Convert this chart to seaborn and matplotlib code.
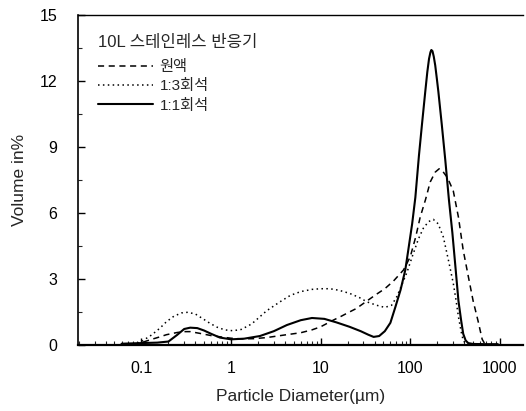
import matplotlib
matplotlib.use("Agg")
import matplotlib.pyplot as plt
import seaborn as sns
import pandas as pd
from matplotlib.ticker import FixedLocator, FixedFormatter, LogLocator, NullFormatter

# ---- data ----
raw_x = [0.08, 0.1, 0.13, 0.16, 0.19, 0.25, 0.3, 0.35, 0.45, 0.6, 0.8, 1.0, 1.3, 1.8, 2.5, 4, 6, 8, 10,
         13.8, 17, 20, 25, 33, 42, 52, 65, 84, 100, 115, 129, 148, 167, 190, 210, 229, 260, 302, 345,
         390, 445, 503, 570, 635, 690]
raw_y = [0.0, 0.1, 0.25, 0.36, 0.46, 0.56, 0.6, 0.6, 0.52, 0.42, 0.35, 0.3, 0.27, 0.28, 0.33, 0.45, 0.55,
         0.68, 0.82, 1.12, 1.3, 1.45, 1.65, 2.0, 2.3, 2.55, 2.9, 3.4, 4.0, 4.9, 5.8, 6.6, 7.4, 7.85, 8.0,
         7.9, 7.6, 7.0, 5.8, 4.3, 3.1, 2.0, 1.1, 0.25, 0.0]

d13_x = [0.08, 0.1, 0.13, 0.16, 0.19, 0.23, 0.28, 0.33, 0.4, 0.5, 0.58, 0.7, 0.85, 1.05, 1.3, 1.7, 2.5,
         3.5, 4.6, 6, 8, 10, 12.7, 16, 21, 27, 33, 42, 52, 62, 71, 80, 92, 105, 123, 140, 160, 181, 205,
         234, 265, 302, 325, 345, 370, 390, 420, 500]
d13_y = [0.0, 0.15, 0.45, 0.75, 1.05, 1.3, 1.45, 1.48, 1.4, 1.15, 0.98, 0.8, 0.68, 0.64, 0.7, 0.95, 1.55,
         1.95, 2.25, 2.42, 2.52, 2.55, 2.55, 2.48, 2.34, 2.15, 1.95, 1.8, 1.7, 1.8, 2.2, 2.7, 3.3, 4.0,
         4.8, 5.3, 5.6, 5.7, 5.5, 4.9, 3.9, 2.8, 2.0, 1.27, 0.6, 0.2, 0.03, 0.0]

d11_x = [0.06, 0.1, 0.15, 0.2, 0.25, 0.3, 0.35, 0.42, 0.5, 0.6, 0.75, 1.0, 1.4, 2.1, 3, 4.2, 6, 8, 11, 15,
         21, 28, 34, 39, 45, 52, 60, 68, 78, 88, 95, 105, 114, 125, 135, 147, 155, 162, 168, 172, 177,
         183, 190, 198, 206, 225, 246, 270, 295, 320, 345, 370, 390, 415, 443, 500, 700, 950]
d11_y = [0.05, 0.08, 0.1, 0.15, 0.45, 0.72, 0.78, 0.76, 0.65, 0.5, 0.33, 0.25, 0.28, 0.4, 0.62, 0.9, 1.12,
         1.22, 1.18, 1.02, 0.82, 0.62, 0.46, 0.36, 0.4, 0.62, 1.0, 1.7, 2.5, 3.4, 4.3, 5.5, 6.7, 8.6,
         10.0, 11.5, 12.4, 13.0, 13.3, 13.4, 13.35, 13.1, 12.7, 12.1, 11.5, 10.0, 8.4, 6.6, 5.1, 3.5,
         2.0, 1.1, 0.5, 0.2, 0.08, 0.04, 0.03, 0.03]

series_labels = ["원액", "1:3회석", "1:1회석"]
legend_title = "10L 스테인레스 반응기"
xtick_vals = [0.1, 1, 10, 100, 1000]
xtick_labels = ["0.1", "1", "10", "100", "1000"]
ytick_vals = [0, 3, 6, 9, 12, 15]

# ---- style ----
sns.set_style("white")
plt.rcParams['font.family'] = ['Liberation Sans', 'Noto Sans CJK KR', 'DejaVu Sans']

fig = plt.figure(figsize=(5.26, 4.11), dpi=100)
ax = fig.add_axes([0.148, 0.161, 0.847, 0.803])

styles = [
    dict(linestyle=(0, (4, 3)), linewidth=1.1),
    dict(linestyle=(0, (1, 2.2)), linewidth=1.1),
    dict(linestyle='-', linewidth=1.5),
]
for (xs, ys), lab, st in zip([(raw_x, raw_y), (d13_x, d13_y), (d11_x, d11_y)], series_labels, styles):
    df = pd.DataFrame({"x": xs, "y": ys})
    sns.lineplot(data=df, x="x", y="y", ax=ax, color="black", label=lab,
                 sort=False, estimator=None, **st)

ax.set_xscale("log")
ax.set_xlim(0.0195, 1830)
ax.set_ylim(0, 15)

ax.xaxis.set_major_locator(FixedLocator(xtick_vals))
ax.xaxis.set_major_formatter(FixedFormatter(xtick_labels))
ax.xaxis.set_minor_locator(LogLocator(base=10, subs=range(2, 10), numticks=20))
ax.xaxis.set_minor_formatter(NullFormatter())
ax.set_yticks(ytick_vals)
ax.set_yticks([1.5, 4.5, 7.5, 10.5, 13.5], minor=True)

ax.tick_params(axis='both', which='major', direction='in', length=5, width=1,
               labelsize=11.5, colors='black')
ax.tick_params(axis='x', which='major', pad=12)
ax.tick_params(axis='y', which='major', pad=15)
ax.tick_params(axis='both', which='minor', direction='in', length=3, width=0.8)
ax.tick_params(axis='x', which='both', bottom=True, top=False)
ax.tick_params(axis='y', which='both', left=True, right=False)

for s in ['left', 'bottom', 'top']:
    ax.spines[s].set_visible(True)
    ax.spines[s].set_color('black')
ax.spines['left'].set_linewidth(1.2)
ax.spines['bottom'].set_linewidth(1.6)
ax.spines['top'].set_linewidth(1.0)
ax.spines['right'].set_visible(False)

ax.set_xlabel("Particle Diameter(\u00b5m)", fontsize=12.5, labelpad=9)
ax.set_ylabel("Volume in%", fontsize=12.5, labelpad=9)

leg = ax.legend(title=legend_title, loc='upper left', bbox_to_anchor=(0.015, 0.98),
                frameon=False, fontsize=11, title_fontsize=12, handlelength=3.6,
                handletextpad=0.4, labelspacing=0.35)
leg._legend_box.align = "left"
leg._legend_box.sep = 7

fig.savefig("out.png", dpi=100)
